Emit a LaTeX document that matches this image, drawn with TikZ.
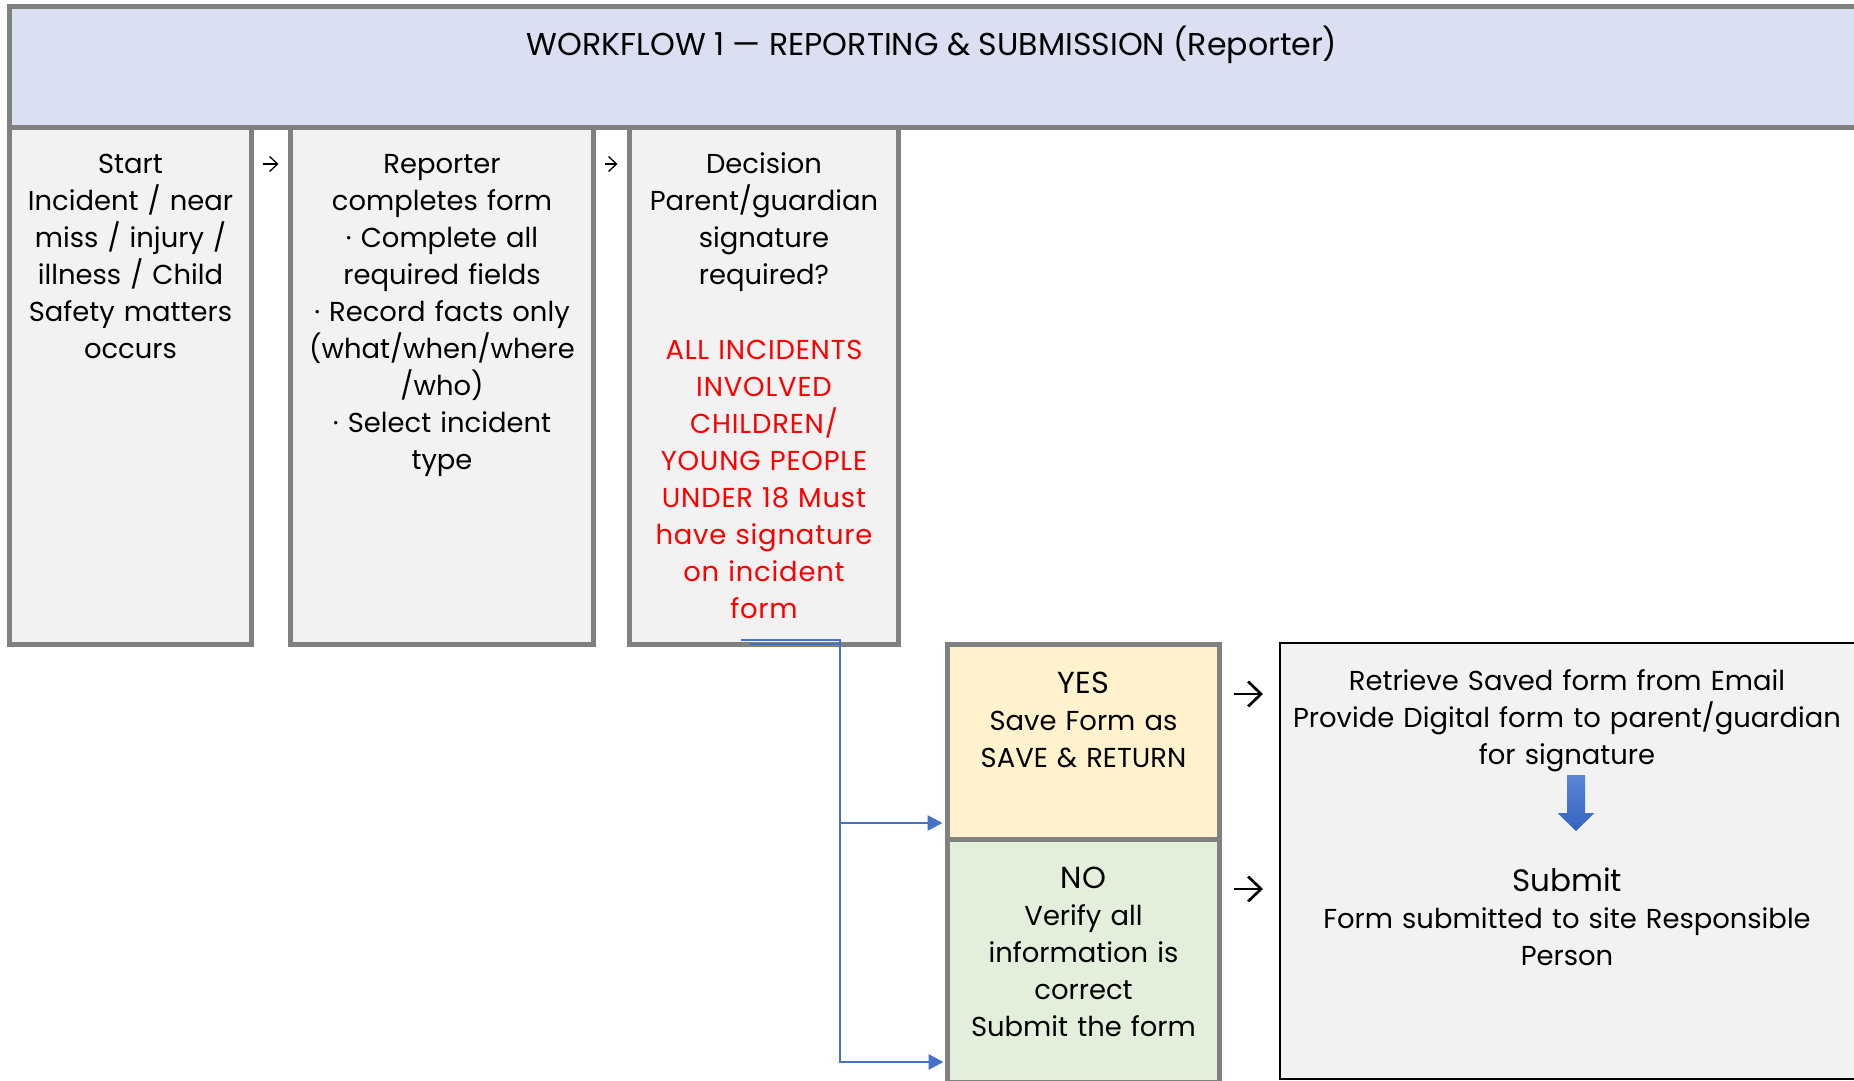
\documentclass[tikz,border=0pt]{standalone}
\usepackage{fontspec}
\setmainfont{Poppins}
\usetikzlibrary{arrows.meta,calc}

\definecolor{edgegray}{HTML}{808080}
\definecolor{boxgray}{HTML}{F2F2F2}
\definecolor{headblue}{HTML}{DAE0F2}
\definecolor{yesfill}{HTML}{FFF2CC}
\definecolor{nofill}{HTML}{E2EFDA}
\definecolor{linkblue}{HTML}{4472C4}
\definecolor{arrowtop}{HTML}{5B87D6}
\definecolor{arrowbot}{HTML}{3463C0}

\begin{document}
\begin{tikzpicture}[x=0.5pt,y=-0.5pt,
    cell/.style={draw=edgegray, line width=2.5pt, fill=boxgray, inner sep=0pt, outer sep=0pt},
    txt/.style={inner sep=0pt, anchor=base, align=center, font=\fontsize{13.7}{18.5}\selectfont},
    tick/.style={line width=0.65pt, -{Straight Barb[length=4pt,width=7.5pt]}},
    hop/.style={line width=1.35pt, -{Straight Barb[length=6.5pt,width=12.5pt]}},
    link/.style={draw=linkblue, line width=1.4pt, -{Triangle[length=7.5pt,width=7.5pt]}}]
  \useasboundingbox (0,0) rectangle (1854,1081);
  \clip (0,0) rectangle (1854,1081);

  % header band
  \node[cell, fill=headblue, minimum width=925.25pt, minimum height=60.75pt] (head) at (934.75,67.25) {};
  \node[txt, font=\fontsize{15.8}{18.5}\selectfont] (title) at (932,56)
    {WORKFLOW 1 — REPORTING \& SUBMISSION (Reporter)};

  % first row of steps
  \node[cell, minimum width=121pt, minimum height=258.25pt] (start) at (130.5,386.25) {};
  \node[cell, minimum width=151.5pt, minimum height=258.25pt] (rep) at (442,386.25) {};
  \node[cell, minimum width=134.5pt, minimum height=258.25pt] (dec) at (764,386.25) {};

  \node[txt, text width=118pt] (startTxt) at (130.5,174)
    {Start\\Incident / near\\miss / injury /\\illness / Child\\Safety matters\\occurs};
  \node[txt, text width=148pt] (repTxt) at (442,174)
    {Reporter\\completes form\\· Complete all\\required fields\\· Record facts only\\(what/when/where\\/who)\\· Select incident\\type};
  \node[txt, text width=131pt] (decTxt) at (764,174)
    {Decision\\Parent/guardian\\signature\\required?};
  \node[txt, text width=131pt, text=red] (decNote) at (764,359)
    {\addfontfeature{LetterSpace=3}ALL INCIDENTS\\INVOLVED\\CHILDREN/\\YOUNG PEOPLE\\UNDER 18 Must\\have signature\\on incident\\form};

  \draw[tick] ($(start.north east)+(11,36)$) -- ($(rep.north west)+(-12,36)$);
  \draw[tick] ($(rep.north east)+(11,36)$) -- ($(dec.north west)+(-12,36)$);

  % yes / no branch
  \node[cell, fill=yesfill, minimum width=136pt, minimum height=97.5pt] (yes) at (1083.5,742) {};
  \node[cell, fill=nofill, minimum width=136pt, minimum height=121.25pt] (no) at (1083.5,960.75) {};
  \node[cell, draw=black, line width=0.75pt, minimum width=289pt, minimum height=218pt] (right) at (1569,861) {};

  \node[txt, text width=133pt] (yesTxt) at (1083.5,693)
    {{\fontsize{15.2}{18.5}\selectfont YES}\\Save Form as\\SAVE \& RETURN};
  \node[txt, text width=133pt] (noTxt) at (1083.5,888)
    {{\fontsize{15.2}{18.5}\selectfont NO}\\Verify all\\information is\\correct\\Submit the form};
  \node[txt, text width=285pt] (retTxt) at (1567,690)
    {Retrieve Saved form from Email\\Provide Digital form to parent/guardian\\for signature};
  \node[txt, text width=285pt] (subTxt) at (1567,891)
    {{\fontsize{15.5}{18.5}\selectfont Submit}\\Form submitted to site Responsible\\Person};

  \shade[top color=arrowtop, bottom color=arrowbot]
    (1567,775) -- (1585,775) -- (1585,813) -- (1594.5,813) -- (1576,831)
    -- (1557.5,813) -- (1567,813) -- cycle;

  \draw[hop] ($(yes.north east)+(14.5,49.5)$) -- ($(yes.north east)+(43.5,49.5)$);
  \draw[hop] ($(no.north east)+(14.5,49.5)$) -- ($(no.north east)+(43.5,49.5)$);

  % decision outlets
  \coordinate (decOut) at ($(dec.south)+(-23,-4.5)$);
  \draw[link] (decOut) -- ++(99,0) |- ($(yes.south west)+(-5,-16.5)$);
  \draw[link] ($(decOut)+(8,4)$) -- ++(91,0) |- ($(no.south west)+(-4,-20)$);
\end{tikzpicture}
\end{document}
